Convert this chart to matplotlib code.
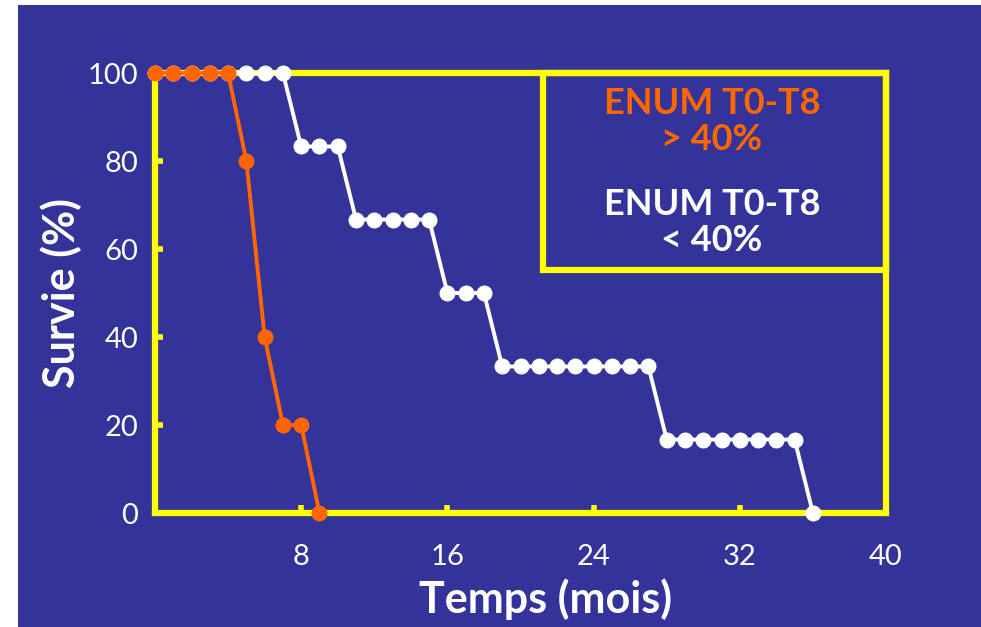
import matplotlib
matplotlib.use('Agg')
import matplotlib.pyplot as plt
from matplotlib.patches import Rectangle

# survival data (months, % survival)
months_high = [0, 1, 2, 3, 4, 5, 6, 7, 8, 9]
surv_high = [100, 100, 100, 100, 100, 80, 40, 20, 20, 0]

months_low = list(range(0, 37))
surv_low = ([100] * 8 + [83.3] * 3 + [66.7] * 5 + [50] * 3 +
            [33.3] * 9 + [16.7] * 8 + [0])

label_high = 'ENUM T0-T8\n> 40%'
label_low = 'ENUM T0-T8\n< 40%'
xticks = [8, 16, 24, 32, 40]
yticks = [0, 20, 40, 60, 80, 100]

blue = '#333399'
orange = '#ff6600'
yellow = '#ffff00'

plt.rcParams['font.family'] = ['Lato', 'DejaVu Sans']

fig = plt.figure(figsize=(9.81, 6.27), dpi=100, facecolor='white')
fig.patches.append(Rectangle((18 / 981, 0), 1, 1 - 5 / 627, transform=fig.transFigure,
                             facecolor=blue, edgecolor='none', zorder=-10))
ax = fig.add_axes([155 / 981, 1 - 513 / 627, 731 / 981, 440 / 627])
ax.set_facecolor(blue)

ax.plot(months_low, surv_low, color='white', lw=2.8, marker='o', ms=10.5,
        clip_on=False, zorder=5)
ax.plot(months_high, surv_high, color=orange, lw=2.8, marker='o', ms=10.5,
        clip_on=False, zorder=6)

ax.set_xlim(0, 40)
ax.set_ylim(0, 100)
ax.set_xticks(xticks)
ax.set_yticks(yticks)
for s in ax.spines.values():
    s.set_color(yellow)
    s.set_linewidth(4.5)
    s.set_zorder(3)
ax.tick_params(direction='in', length=6, width=4, color=yellow, labelcolor='white',
               labelsize=21, top=False, right=False)
ax.tick_params(axis='x', pad=22)
ax.tick_params(axis='y', pad=12)

ax.set_xlabel('Temps (mois)', color='white', fontsize=31, fontweight='bold', va='center')
ax.xaxis.set_label_coords(0.534, -0.195)
ax.set_ylabel('Survie (%)', color='white', fontsize=31, fontweight='bold')
ax.yaxis.set_label_coords(-0.1, 0.5)

ax.add_patch(Rectangle((0.531, 0.552), 0.469, 0.448, transform=ax.transAxes,
                       facecolor='none', edgecolor=yellow, lw=4.5, zorder=3, clip_on=False))
ax.text(0.762, 0.89, label_high, transform=ax.transAxes, color=orange, fontsize=26,
        fontweight='bold', ha='center', va='center', linespacing=1.1)
ax.text(0.762, 0.66, label_low, transform=ax.transAxes, color='white', fontsize=26,
        fontweight='bold', ha='center', va='center', linespacing=1.1)

fig.savefig('out.png', dpi=100, facecolor=fig.get_facecolor())
